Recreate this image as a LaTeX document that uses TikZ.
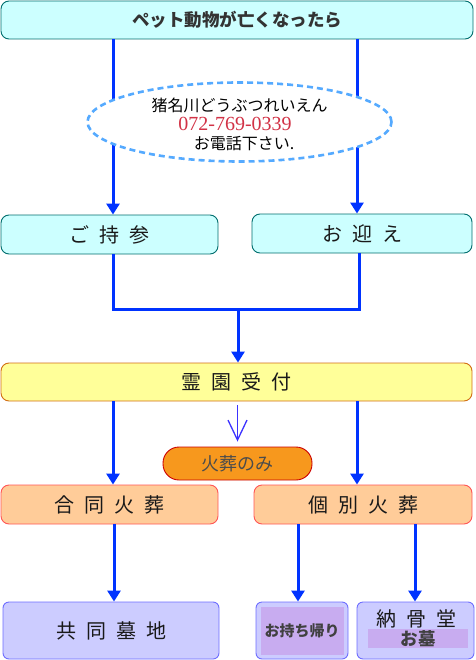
\documentclass[tikz,border=0pt]{standalone}
\usepackage{fontspec}
\setmainfont{Noto Sans CJK JP}
\newfontfamily\serfont{Liberation Serif}
\usetikzlibrary{arrows.meta,shapes.geometric,calc}
\definecolor{cyanfill}{RGB}{204,255,255}
\definecolor{tealline}{RGB}{0,110,110}
\definecolor{arrblue}{RGB}{0,51,255}
\definecolor{thinblue}{RGB}{60,50,255}
\definecolor{dashblue}{RGB}{85,170,255}
\definecolor{phonered}{RGB}{210,50,70}
\definecolor{yelfill}{RGB}{255,255,153}
\definecolor{yelline}{RGB}{210,110,20}
\definecolor{orfill}{RGB}{247,152,29}
\definecolor{orline}{RGB}{204,0,0}
\definecolor{peachfill}{RGB}{255,204,153}
\definecolor{peachline}{RGB}{255,85,85}
\definecolor{lavfill}{RGB}{204,204,255}
\definecolor{lavline}{RGB}{110,110,255}
\definecolor{purfill}{RGB}{200,172,240}
\definecolor{txtdark}{RGB}{25,25,25}
\newcommand{\jsp}{\hspace{10pt}}
\begin{document}
\begin{tikzpicture}[x=1pt,y=-1pt,
  box/.style={rounded corners=8pt, line width=0.9pt, inner sep=0pt, align=center, text=txtdark},
  cyanbox/.style={box, draw=tealline, fill=cyanfill},
  yelbox/.style={box, draw=yelline, fill=yelfill},
  peachbox/.style={box, draw=peachline, fill=peachfill},
  lavbox/.style={box, draw=lavline, fill=lavfill, rounded corners=6pt},
  purrect/.style={fill=purfill, inner sep=0pt, text=black!75, font=\fontsize{15}{15}\selectfont\bfseries},
  boxfont/.style={font=\fontsize{20}{20}\selectfont},
  arr/.style={line width=3pt, draw=arrblue, -{Triangle[length=11pt,width=13pt]}},
  conn/.style={line width=3pt, draw=arrblue},
  thinarr/.style={line width=1.3pt, draw=thinblue, -{Straight Barb[length=20pt,width=19pt,line width=1.3pt]}},
  calltext/.style={inner sep=0pt, font=\fontsize{16}{16}\selectfont, text=black}
]
\useasboundingbox (0,0) rectangle (475,660);

% coordinates for connector columns
\coordinate (xL) at (113,0);
\coordinate (xR) at (357,0);
\coordinate (xR2) at (359,0);
\coordinate (merge) at (238,309);
\coordinate (xG) at (114,0);
\coordinate (xK1) at (298,0);
\coordinate (xK2) at (415,0);

% nodes
\node[cyanbox, minimum width=472pt, minimum height=38pt, font=\fontsize{17.5}{17.5}\selectfont\bfseries, text=black!80] (top) at (237,20) {ペット動物が亡くなったら};
\node[cyanbox, boxfont, minimum width=217pt, minimum height=39pt] (jisan) at (109.5,234.5) {ご\jsp 持\jsp 参};
\node[cyanbox, boxfont, minimum width=220pt, minimum height=39pt] (mukae) at (362,233.5) {お\jsp 迎\jsp え};
\node[yelbox, boxfont, minimum width=471pt, minimum height=38pt] (reien) at (236.5,382) {霊\jsp 園\jsp 受\jsp 付};
\node[box, draw=orline, fill=orfill, rounded corners=16pt, minimum width=149pt, minimum height=33pt, font=\fontsize{18}{18}\selectfont, text=black!70] (kasou) at (237.5,463.5) {火葬のみ};
\node[peachbox, boxfont, minimum width=217pt, minimum height=39pt] (godo) at (109.5,504.5) {合\jsp 同\jsp 火\jsp 葬};
\node[peachbox, boxfont, minimum width=218pt, minimum height=39pt] (kobetsu) at (363,504.5) {個\jsp 別\jsp 火\jsp 葬};
\node[lavbox, boxfont, minimum width=216pt, minimum height=57pt] (kyodo) at (111,630.5) {共\jsp 同\jsp 墓\jsp 地};
\node[lavbox, minimum width=92pt, minimum height=57pt] (mochi) at (302,630.5) {};
\node[purrect, minimum width=83pt, minimum height=48pt] (mochiin) at (mochi.center) {お持ち帰り};
\node[lavbox, minimum width=117pt, minimum height=57pt] (noukotsu) at (415.5,630.5) {};
\node[inner sep=0pt, boxfont, text=txtdark] (noutxt) at (416,619) {納\jsp 骨\jsp 堂};
\node[purrect, minimum width=100pt, minimum height=19pt, font=\fontsize{17.5}{17.5}\selectfont\bfseries] (ohaka) at (418,638.5) {お墓};

% connectors from the top box (drawn before the ellipse so it covers them)
\draw[arr] (top.south -| xL) -- (jisan.north -| xL);
\draw[arr] (top.south -| xR) -- (mukae.north -| xR);

% dashed ellipse with contact text
\node[ellipse, draw=dashblue, fill=white, line width=2.6pt, dash pattern=on 6pt off 4pt, minimum width=304pt, minimum height=79pt, inner sep=0pt] (call) at (239.5,122) {};
\node[calltext] (c1) at (239.5,105) {猪名川どうぶつれいえん};
\node[calltext, font=\serfont\fontsize{20}{20}\selectfont, text=phonered] (c2) at (235,124) {072-769-0339};
\node[calltext] (c3) at (244,144) {お電話下さい.};

% merge into reception
\draw[conn] (jisan.south -| xL) |- (merge) -| (mukae.south -| xR2);
\draw[arr] (merge) -- (reien.north -| merge);

% from reception
\draw[arr] (reien.south -| xL) -- (godo.north -| xL);
\draw[arr] (reien.south -| xR) -- (kobetsu.north -| xR);
\draw[thinarr] ($(reien.south -| kasou.north)+(0,4)$) -- ($(kasou.north)+(0,-5)$);

% to final boxes
\draw[arr] (godo.south -| xG) -- (kyodo.north -| xG);
\draw[arr] (kobetsu.south -| xK1) -- (mochi.north -| xK1);
\draw[arr] (kobetsu.south -| xK2) -- (noukotsu.north -| xK2);
\end{tikzpicture}
\end{document}
